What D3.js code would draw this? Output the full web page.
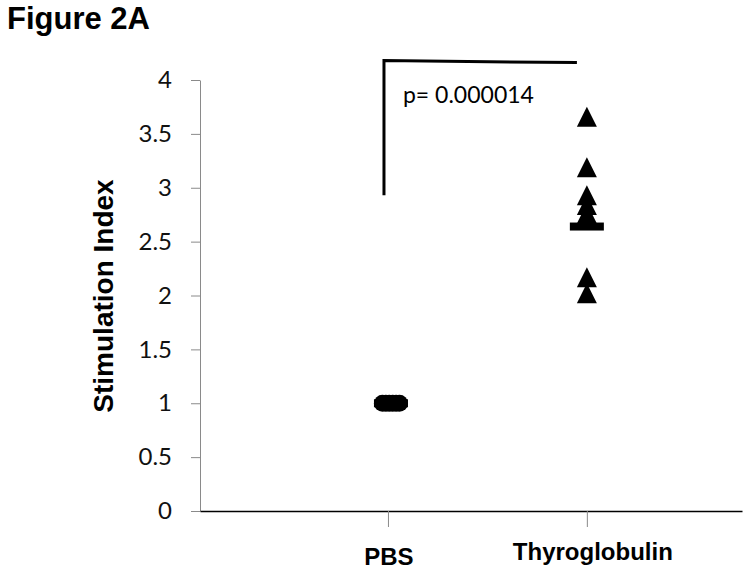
<!DOCTYPE html>
<html>
<head>
<meta charset="utf-8">
<script src="https://cdn.jsdelivr.net/npm/d3@7"></script>
<style>
  body { margin: 0; background: #fff; }
  svg { display: block; }
</style>
</head>
<body>
<svg width="754" height="572"></svg>
<script>
// data
var categories = ["PBS", "Thyroglobulin"];
var pbsValues = [1, 1, 1, 1, 1, 1];
var tgValues = [3.66, 3.19, 2.93, 2.84, 2.76, 2.17, 2.02];
var groupMeans = [1, 2.64];
var yTicks = [0, 0.5, 1, 1.5, 2, 2.5, 3, 3.5, 4];
var pValue = "p= 0.000014";
var bracket = { x1: 0.98, x2: 1.95, yLow: 2.93, yTop: 4.18 };

var svg = d3.select("svg");

var x = d3.scaleLinear().domain([0.055, 2.78]).range([200, 742]);
var y = d3.scaleLinear().domain([0, 4]).range([511, 80]);

// title
svg.append("text")
  .attr("x", 7).attr("y", 29)
  .style("font-family", "Liberation Sans, Arial, sans-serif")
  .style("font-weight", "bold")
  .style("font-size", "31px")
  .text("Figure 2A");

// y axis
var yAxis = svg.append("g")
  .attr("transform", "translate(" + x.range()[0] + ",0)")
  .call(d3.axisLeft(y).tickValues(yTicks).tickSize(9).tickSizeOuter(0).tickPadding(19)
    .tickFormat(d3.format("~g")));
yAxis.select(".domain").attr("stroke", "#8a8a8a");
yAxis.selectAll(".tick line").attr("stroke", "#8a8a8a");
yAxis.selectAll(".tick text")
  .attr("fill", "#111")
  .style("font-family", "Lato, 'Open Sans', sans-serif")
  .style("font-size", "24px");

svg.append("text")
  .attr("transform", "translate(113," + 296 + ") rotate(-90)")
  .attr("text-anchor", "middle")
  .style("font-family", "Liberation Sans, Arial, sans-serif")
  .style("font-weight", "bold")
  .style("font-size", "28px")
  .text("Stimulation Index");

// x axis
var xAxis = svg.append("g")
  .attr("transform", "translate(0," + y(0) + ")")
  .call(d3.axisBottom(x).tickValues([1, 2]).tickSize(16).tickSizeOuter(0).tickFormat(""));
xAxis.select(".domain").attr("stroke", "#000").attr("stroke-width", 1.5);
xAxis.selectAll(".tick line").attr("stroke", "#8a8a8a");

var labelNudge = [4, -1];
svg.selectAll(".cat-label")
  .data(categories)
  .enter().append("text")
  .attr("class", "cat-label")
  .attr("x", function(d, i) { return x(i + 1) + (i === 1 ? 6 : 1); })
  .attr("y", function(d, i) { return y(0) + 50 + labelNudge[i]; })
  .attr("text-anchor", "middle")
  .style("font-family", "Liberation Sans, Arial, sans-serif")
  .style("font-weight", "bold")
  .style("font-size", "24px")
  .text(function(d) { return d; });

// significance bracket
svg.append("path")
  .attr("d", d3.line()([
    [x(bracket.x1), y(bracket.yLow)],
    [x(bracket.x1), y(bracket.yTop)],
    [x(bracket.x2), y(bracket.yTop) + 2]
  ]))
  .attr("fill", "none")
  .attr("stroke", "#000")
  .attr("stroke-width", 3);

svg.append("text")
  .attr("x", x(bracket.x1) + 19)
  .attr("y", y(bracket.yTop) + 42)
  .style("font-family", "Lato, 'Open Sans', sans-serif")
  .style("font-size", "23px")
  .text(pValue);

// PBS dots (spread a little side by side)
var r = 8.5;
var pbsShift = 3;
svg.selectAll(".pbs")
  .data(pbsValues)
  .enter().append("circle")
  .attr("class", "pbs")
  .attr("cx", function(d, i) { return x(1) + pbsShift + (i - (pbsValues.length - 1) / 2) * 3.4; })
  .attr("cy", function(d) { return y(d); })
  .attr("r", r)
  .attr("fill", "#000");

// thyroglobulin triangles
var tri = "M0,-10L10,10L-10,10Z";
svg.selectAll(".tg")
  .data(tgValues)
  .enter().append("path")
  .attr("class", "tg")
  .attr("d", tri)
  .attr("transform", function(d) { return "translate(" + x(2) + "," + y(d) + ")"; })
  .attr("fill", "#000");

// mean bars
svg.selectAll(".mean")
  .data(groupMeans)
  .enter().append("rect")
  .attr("class", "mean")
  .attr("x", function(d, i) { return x(i + 1) - 17 + (i === 0 ? pbsShift : 0); })
  .attr("y", function(d) { return y(d) - 4; })
  .attr("width", 34)
  .attr("height", 8)
  .attr("fill", "#000");
</script>
</body>
</html>
